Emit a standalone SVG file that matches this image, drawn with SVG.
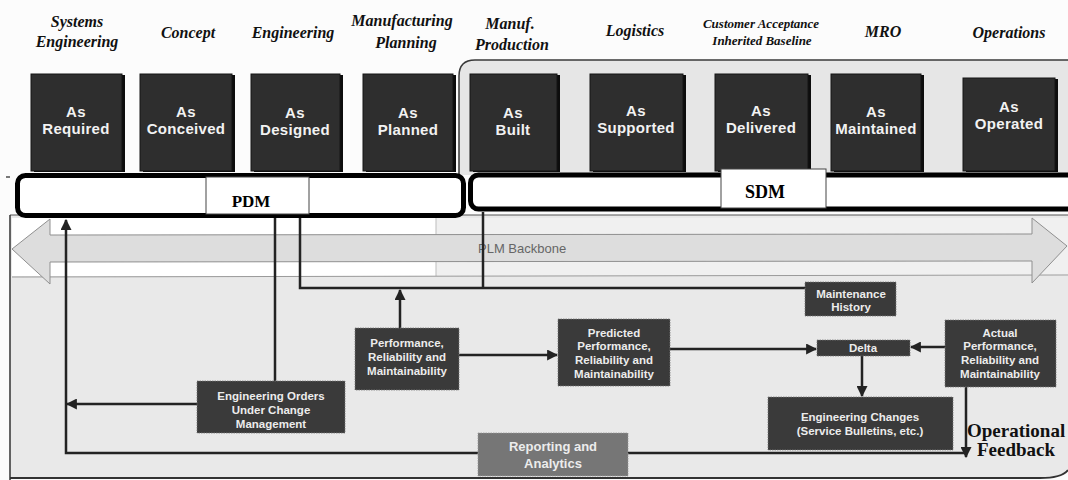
<svg xmlns="http://www.w3.org/2000/svg" width="1068" height="480" viewBox="0 0 1068 480">
  <style>
    .phase { font-family: "Liberation Serif", "Times New Roman", serif; font-style: italic; font-weight: bold; font-size: 16px; fill: #111; text-anchor: middle; }
    .phase-sm { font-size: 13px; }
    .shadow { fill: #0d0d0d; }
    .state { fill: #2e2e2e; stroke: #151515; stroke-width: 1; }
    .state-txt { font-family: "Liberation Sans", Arial, sans-serif; font-weight: bold; font-size: 15px; fill: #f2f2f2; text-anchor: middle; letter-spacing: 0.3px; }
    .bar { fill: #ffffff; stroke: #000; stroke-width: 5; }
    .tag { fill: #ffffff; stroke: #444; stroke-width: 1; }
    .tag-txt { font-family: "Liberation Serif", "Times New Roman", serif; font-weight: bold; fill: #000; text-anchor: middle; }
    .node { fill: #3a3a3a; stroke: #7a7a7a; stroke-width: 0.8; stroke-dasharray: 1.5 1; }
    .node-txt { font-family: "Liberation Sans", Arial, sans-serif; font-weight: bold; font-size: 11.5px; fill: #ececec; text-anchor: middle; }
    .big-txt { font-size: 13px; }
    .wire { fill: none; stroke: #232323; stroke-width: 2.5; }
    .plm { font-family: "Liberation Sans", Arial, sans-serif; font-size: 13px; fill: #666; }
    .feedback { font-family: "Liberation Serif", "Times New Roman", serif; font-weight: bold; font-size: 19px; fill: #111; }
  </style>
  <defs>
    <marker id="arrow" viewBox="0 0 10 10" refX="9" refY="5" markerWidth="4.4" markerHeight="4.4" orient="auto" markerUnits="strokeWidth">
      <path d="M0,0 L10,5 L0,10 Z" fill="#232323"/>
    </marker>
  </defs>

  <!-- page background -->
  <rect x="0" y="0" width="1068" height="480" fill="#fcfcfc"/>

  <!-- service-side bracket behind the right-hand states -->
  <path d="M459,175 V76 Q459,60 475,60 H1068 V175 Z" fill="#e6e6e6"/>
  <path d="M459,175 V76 Q459,60 475,60 H1068" fill="none" stroke="#3a3a3a" stroke-width="1.5"/>

  <!-- lower panel -->
  <g id="panel">
    <path d="M10,215 H1068 V468 Q1068,478 1040,478 H10 Z" fill="#e9e9e9"/>
    <line x1="10" y1="215" x2="1068" y2="215" stroke="#555" stroke-width="1"/>
    <line x1="10" y1="215" x2="10" y2="480" stroke="#333" stroke-width="1.5"/>
    <path d="M10,478 H1040 Q1062,478 1068,470" fill="none" stroke="#333" stroke-width="2"/>
    <line x1="6" y1="177" x2="10" y2="177" stroke="#222" stroke-width="1.2"/>
  </g>

  <!-- PLM backbone -->
  <g id="backbone">
    <rect x="12" y="218" width="424" height="58" fill="#ffffff"/>
    <rect x="436" y="218" width="632" height="58" fill="#f0f0f0"/>
    <line x1="436" y1="218" x2="436" y2="276" stroke="#bdbdbd" stroke-width="1"/>
    <line x1="12" y1="277" x2="1068" y2="275" stroke="#9a9a9a" stroke-width="1"/>
    <polygon points="12,249 50,219 50,235 1032,234 1032,218 1067,246 1032,283 1032,261 50,262 50,284" fill="#dddddd" stroke="#8f8f8f" stroke-width="1"/>
    <text class="plm" x="478" y="253">PLM Backbone</text>
  </g>

  <!-- phase headings -->
  <g id="phases">
    <text class="phase" x="77" y="27">Systems</text>
    <text class="phase" x="77" y="47">Engineering</text>
    <text class="phase" x="188" y="38">Concept</text>
    <text class="phase" x="293" y="38">Engineering</text>
    <text class="phase" x="402" y="26">Manufacturing</text>
    <text class="phase" x="406" y="48">Planning</text>
    <text class="phase" x="510" y="29">Manuf.</text>
    <text class="phase" x="512" y="50">Production</text>
    <text class="phase" x="635" y="36">Logistics</text>
    <text class="phase phase-sm" x="761" y="28">Customer Acceptance</text>
    <text class="phase phase-sm" x="762" y="45">Inherited Baseline</text>
    <text class="phase" x="883" y="37">MRO</text>
    <text class="phase" x="1009" y="38">Operations</text>
  </g>

  <!-- configuration states -->
  <g id="as-required">
    <rect class="shadow" x="34" y="75" width="91" height="97"/>
    <rect class="state" x="31" y="74" width="91" height="97"/>
    <text class="state-txt" x="76" y="117">As</text>
    <text class="state-txt" x="76" y="134">Required</text>
  </g>
  <g id="as-conceived">
    <rect class="shadow" x="143" y="75" width="92" height="97"/>
    <rect class="state" x="140" y="74" width="92" height="97"/>
    <text class="state-txt" x="186" y="117">As</text>
    <text class="state-txt" x="186" y="134">Conceived</text>
  </g>
  <g id="as-designed">
    <rect class="shadow" x="254" y="75" width="89" height="97"/>
    <rect class="state" x="251" y="74" width="89" height="97"/>
    <text class="state-txt" x="295" y="118">As</text>
    <text class="state-txt" x="295" y="135">Designed</text>
  </g>
  <g id="as-planned">
    <rect class="shadow" x="366" y="75" width="90" height="97"/>
    <rect class="state" x="363" y="74" width="90" height="97"/>
    <text class="state-txt" x="408" y="118">As</text>
    <text class="state-txt" x="408" y="135">Planned</text>
  </g>
  <g id="as-built">
    <rect class="shadow" x="473" y="75" width="87" height="97"/>
    <rect class="state" x="470" y="74" width="87" height="97"/>
    <text class="state-txt" x="513" y="118">As</text>
    <text class="state-txt" x="513" y="135">Built</text>
  </g>
  <g id="as-supported">
    <rect class="shadow" x="593" y="75" width="93" height="97"/>
    <rect class="state" x="590" y="74" width="93" height="97"/>
    <text class="state-txt" x="636" y="116">As</text>
    <text class="state-txt" x="636" y="133">Supported</text>
  </g>
  <g id="as-delivered">
    <rect class="shadow" x="718" y="75" width="93" height="97"/>
    <rect class="state" x="715" y="74" width="93" height="97"/>
    <text class="state-txt" x="761" y="116">As</text>
    <text class="state-txt" x="761" y="133">Delivered</text>
  </g>
  <g id="as-maintained">
    <rect class="shadow" x="834" y="75" width="90" height="97"/>
    <rect class="state" x="831" y="74" width="90" height="97"/>
    <text class="state-txt" x="876" y="117">As</text>
    <text class="state-txt" x="876" y="134">Maintained</text>
  </g>
  <g id="as-operated">
    <rect class="shadow" x="966" y="79" width="92" height="93"/>
    <rect class="state" x="963" y="78" width="92" height="93"/>
    <text class="state-txt" x="1009" y="112">As</text>
    <text class="state-txt" x="1009" y="129">Operated</text>
  </g>

  <!-- data management bars -->
  <g id="pdm">
    <rect class="bar" x="17.5" y="175.5" width="446" height="40" rx="8"/>
    <rect class="tag" x="206" y="177" width="103" height="37"/>
    <text class="tag-txt" x="251" y="207" style="font-size:17px">PDM</text>
  </g>
  <g id="sdm">
    <rect class="bar" x="470.5" y="175" width="620" height="34" rx="8"/>
    <rect class="tag" x="721" y="169" width="105" height="39"/>
    <text class="tag-txt" x="765" y="198" style="font-size:18px">SDM</text>
  </g>

  <!-- connectors -->
  <g id="connectors">
    <line class="wire" x1="275" y1="218" x2="275" y2="381"/>
    <polyline class="wire" points="300,218 300,288 805,288"/>
    <line class="wire" x1="483" y1="212" x2="483" y2="288"/>
    <line class="wire" x1="400" y1="328" x2="400" y2="290" marker-end="url(#arrow)"/>
    <line class="wire" x1="459" y1="355" x2="557" y2="355" marker-end="url(#arrow)"/>
    <line class="wire" x1="670" y1="349" x2="816" y2="349" marker-end="url(#arrow)"/>
    <line class="wire" x1="945" y1="347" x2="911" y2="347" marker-end="url(#arrow)"/>
    <line class="wire" x1="862" y1="356" x2="862" y2="396" marker-end="url(#arrow)"/>
    <line class="wire" x1="966" y1="387" x2="966" y2="457" marker-end="url(#arrow)"/>
    <polyline class="wire" points="966,453 66,453 66,220" marker-end="url(#arrow)"/>
    <line class="wire" x1="197" y1="404" x2="67" y2="404" marker-end="url(#arrow)"/>
  </g>

  <!-- process nodes -->
  <g id="maintenance-history">
    <rect class="node" x="805" y="282" width="91" height="34"/>
    <text class="node-txt" x="851" y="298">Maintenance</text>
    <text class="node-txt" x="851" y="311">History</text>
  </g>
  <g id="performance">
    <rect class="node" x="355" y="328" width="104" height="62"/>
    <text class="node-txt" x="407" y="347">Performance,</text>
    <text class="node-txt" x="407" y="361">Reliability and</text>
    <text class="node-txt" x="407" y="375">Maintainability</text>
  </g>
  <g id="engineering-orders">
    <rect class="node" x="197" y="381" width="148" height="52"/>
    <text class="node-txt" x="271" y="400">Engineering Orders</text>
    <text class="node-txt" x="271" y="414">Under Change</text>
    <text class="node-txt" x="271" y="428">Management</text>
  </g>
  <g id="predicted">
    <rect class="node" x="558" y="319" width="112" height="67"/>
    <text class="node-txt" x="614" y="337">Predicted</text>
    <text class="node-txt" x="614" y="350">Performance,</text>
    <text class="node-txt" x="614" y="364">Reliability and</text>
    <text class="node-txt" x="614" y="378">Maintainability</text>
  </g>
  <g id="delta">
    <rect class="node" x="817" y="340" width="93" height="16"/>
    <text class="node-txt" x="863" y="352">Delta</text>
  </g>
  <g id="actual">
    <rect class="node" x="945" y="320" width="111" height="67"/>
    <text class="node-txt" x="1000" y="337">Actual</text>
    <text class="node-txt" x="1000" y="350">Performance,</text>
    <text class="node-txt" x="1000" y="364">Reliability and</text>
    <text class="node-txt" x="1000" y="378">Maintainability</text>
  </g>
  <g id="engineering-changes">
    <rect class="node" x="768" y="397" width="185" height="53"/>
    <text class="node-txt" x="860" y="421">Engineering Changes</text>
    <text class="node-txt" x="860" y="435">(Service Bulletins, etc.)</text>
  </g>
  <g id="reporting">
    <rect x="478" y="433" width="150" height="43" fill="#767676" stroke="#999" stroke-width="0.8" stroke-dasharray="1.5 1"/>
    <text class="node-txt big-txt" x="553" y="451">Reporting and</text>
    <text class="node-txt big-txt" x="553" y="468">Analytics</text>
  </g>

  <!-- feedback label -->
  <g id="operational-feedback">
    <text class="feedback" x="967" y="437">Operational</text>
    <text class="feedback" x="977" y="456">Feedback</text>
  </g>
</svg>
